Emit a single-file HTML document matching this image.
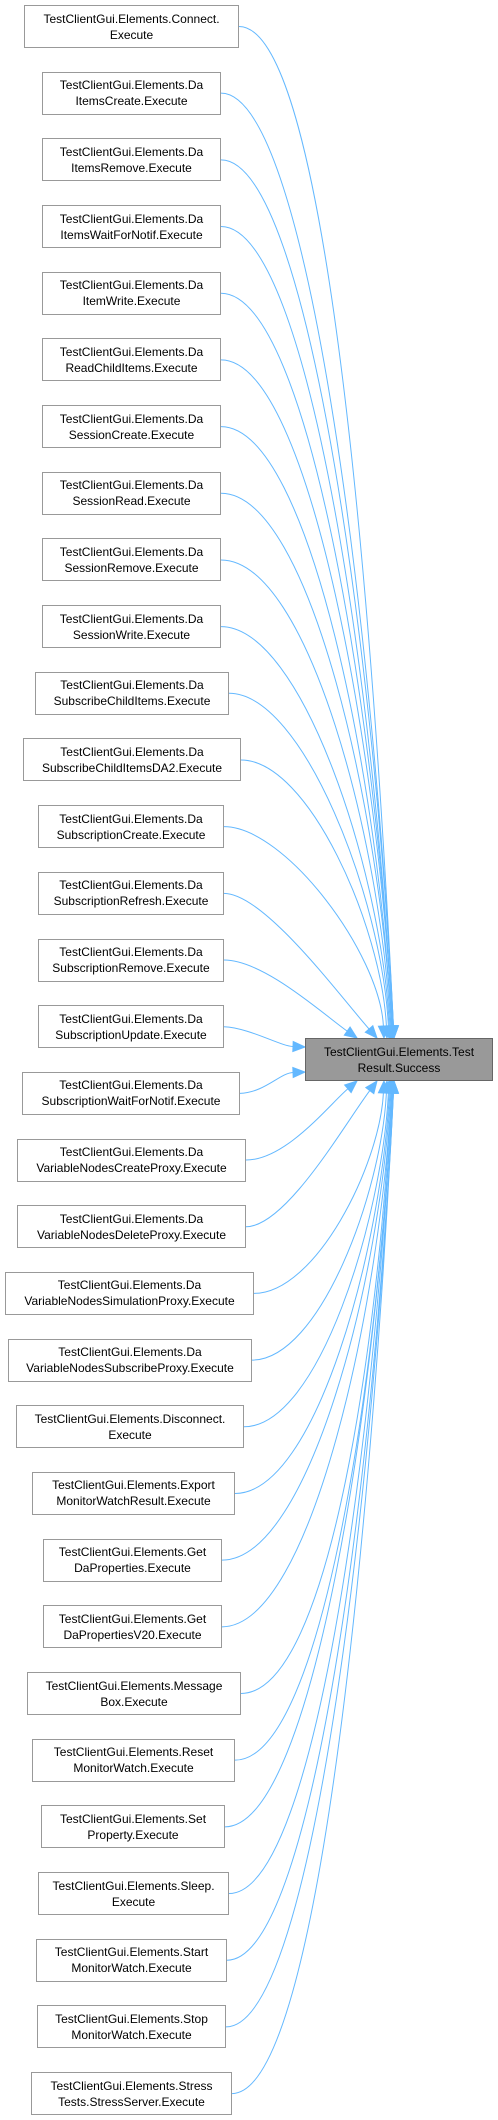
<!DOCTYPE html>
<html><head><meta charset="utf-8"><style>
body{margin:0;width:498px;height:2120px;background:#fff;position:relative;overflow:hidden;font-family:"Liberation Sans",Arial,sans-serif;}
.b{position:absolute;height:41px;border:1px solid #999;background:#fff;font-size:12px;line-height:16px;text-align:center;display:flex;align-items:center;justify-content:center;color:#000;box-sizing:content-box}
.t{background:#999;border-color:#666}
svg{position:absolute;left:0;top:0}
</style></head><body>
<svg id="s" width="498" height="2120"></svg>
<div id="c"></div>
<script>
var N=[["TestClientGui.Elements.Connect.<br>Execute",24,239],
["TestClientGui.Elements.Da<br>ItemsCreate.Execute",42,221],
["TestClientGui.Elements.Da<br>ItemsRemove.Execute",42,221],
["TestClientGui.Elements.Da<br>ItemsWaitForNotif.Execute",42,221],
["TestClientGui.Elements.Da<br>ItemWrite.Execute",42,221],
["TestClientGui.Elements.Da<br>ReadChildItems.Execute",42,221],
["TestClientGui.Elements.Da<br>SessionCreate.Execute",42,221],
["TestClientGui.Elements.Da<br>SessionRead.Execute",42,221],
["TestClientGui.Elements.Da<br>SessionRemove.Execute",42,221],
["TestClientGui.Elements.Da<br>SessionWrite.Execute",42,221],
["TestClientGui.Elements.Da<br>SubscribeChildItems.Execute",35,229],
["TestClientGui.Elements.Da<br>SubscribeChildItemsDA2.Execute",23,241],
["TestClientGui.Elements.Da<br>SubscriptionCreate.Execute",38,224],
["TestClientGui.Elements.Da<br>SubscriptionRefresh.Execute",38,224],
["TestClientGui.Elements.Da<br>SubscriptionRemove.Execute",38,224],
["TestClientGui.Elements.Da<br>SubscriptionUpdate.Execute",38,224],
["TestClientGui.Elements.Da<br>SubscriptionWaitForNotif.Execute",22,240],
["TestClientGui.Elements.Da<br>VariableNodesCreateProxy.Execute",17,246],
["TestClientGui.Elements.Da<br>VariableNodesDeleteProxy.Execute",17,246],
["TestClientGui.Elements.Da<br>VariableNodesSimulationProxy.Execute",5,254],
["TestClientGui.Elements.Da<br>VariableNodesSubscribeProxy.Execute",8,252],
["TestClientGui.Elements.Disconnect.<br>Execute",16,244],
["TestClientGui.Elements.Export<br>MonitorWatchResult.Execute",32,235],
["TestClientGui.Elements.Get<br>DaProperties.Execute",43,222],
["TestClientGui.Elements.Get<br>DaPropertiesV20.Execute",43,222],
["TestClientGui.Elements.Message<br>Box.Execute",27,241],
["TestClientGui.Elements.Reset<br>MonitorWatch.Execute",32,235],
["TestClientGui.Elements.Set<br>Property.Execute",41,225],
["TestClientGui.Elements.Sleep.<br>Execute",38,229],
["TestClientGui.Elements.Start<br>MonitorWatch.Execute",36,227],
["TestClientGui.Elements.Stop<br>MonitorWatch.Execute",37,226],
["TestClientGui.Elements.Stress<br>Tests.StressServer.Execute",31,232]];
var h="",p="",C="#63b8ff";
var XS=[0,357,377,384,387,389,390,391,392,392,393,393,393,394,394,394];
for(var i=0;i<N.length;i++){
 var y=5+i*66.68,n=N[i];
 h+='<div class="b" style="left:'+n[1]+'px;top:'+y+'px;width:'+(n[2]-n[1]-2)+'px">'+n[0]+'</div>';
 var sx=n[2],sy=y+21.5,ex,ey,dx,dy,c1x,c1y,c2x,c2y;
 if(i==15){ex=305;ey=1047;c1x=sx+25;c1y=sy+1;c2x=ex-25;c2y=ey-1;}
 else if(i==16){ex=305;ey=1072;c1x=sx+25;c1y=sy-1;c2x=ex-25;c2y=ey+1;}
 else{
  var d=i<15?15-i:i-16,up=i<15;
  ex=XS[Math.min(d,15)]; ey=up?1038:1081;
  if(d<=2){c1x=sx+40;c1y=sy;c2x=ex-(ex-sx)*0.25;c2y=ey-(ey-sy)*0.3;}
  else{c1x=sx+Math.min(90,40+Math.abs(sy-ey)*0.1);c1y=sy;c2x=ex-Math.min(20,Math.abs(sy-ey)*0.02);c2y=(sy+ey)/2+(ey-sy)*0.1;}
 }
 dx=ex-c2x;dy=ey-c2y;var L=Math.hypot(dx,dy);dx/=L;dy/=L;
 var ax=ex-dx*12,ay=ey-dy*12;
 p+='<path d="M'+sx+','+sy+' C'+c1x+','+c1y+' '+c2x+','+c2y+' '+ax+','+ay+'" fill="none" stroke="'+C+'" stroke-width="1"/>';
 p+='<polygon points="'+ex+','+ey+' '+(ax-dy*5)+','+(ay+dx*5)+' '+(ax+dy*5)+','+(ay-dx*5)+'" fill="'+C+'" stroke="'+C+'"/>';
}
h+='<div class="b t" style="left:305px;top:1038px;width:186px">TestClientGui.Elements.Test<br>Result.Success</div>';
document.getElementById("c").innerHTML=h;
document.getElementById("s").innerHTML=p;
</script>
</body></html>
